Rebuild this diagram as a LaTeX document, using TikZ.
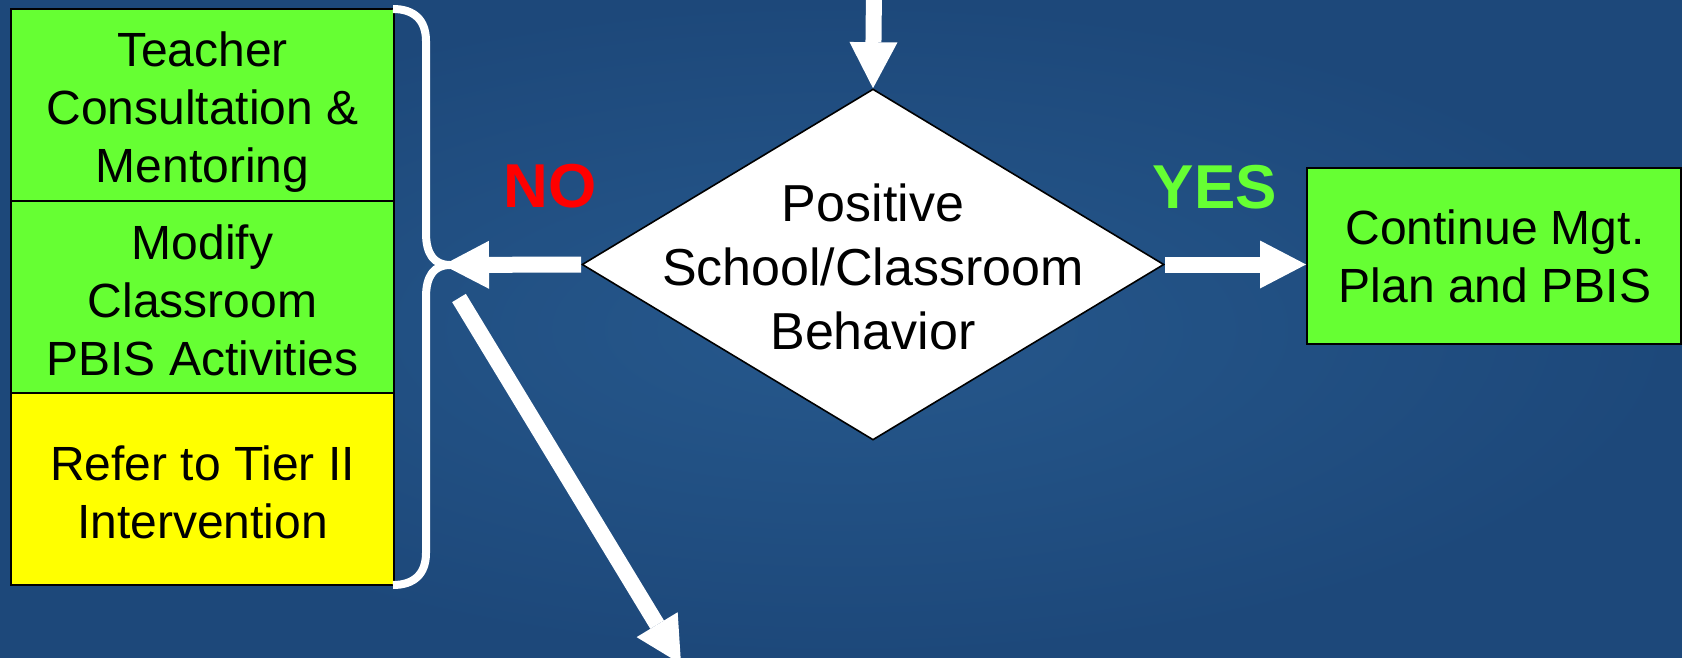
\documentclass[tikz,border=0pt]{standalone}
\usepackage{fontspec}
\setmainfont{Liberation Sans}
\usetikzlibrary{arrows.meta,shapes.geometric}
\definecolor{bgblue}{RGB}{29,72,122}
\definecolor{bglight}{RGB}{38,88,140}
\definecolor{boxgreen}{RGB}{102,255,51}
\definecolor{boxyellow}{RGB}{255,255,0}
\definecolor{nored}{RGB}{255,0,0}
\begin{document}
\begin{tikzpicture}[x=0.5pt,y=-0.5pt,
  box/.style={draw=black, line width=1pt, rectangle, inner sep=0pt},
  boxtext/.style={align=center, inner sep=0pt, font=\fontsize{24}{29}\selectfont, text=black},
  flow/.style={draw=white, line width=8pt,
    -{Triangle[length=23pt,width=24pt,line width=0pt]}},
  bracestyle/.style={draw=white, line width=4pt, line join=round},
  answer/.style={font=\bfseries\fontsize{31}{36}\selectfont, inner sep=0pt}]
\useasboundingbox (0,0) rectangle (1682,658);
\clip (0,0) rectangle (1682,658);
\shade[inner color=bglight, outer color=bgblue] (0,0) rectangle (1682,658);

% left stack
\node[box, fill=boxgreen, minimum width=191.5pt, minimum height=96pt] (b1) at (202.5,105) {};
\node[box, fill=boxgreen, minimum width=191.5pt, minimum height=96pt] (b2) at (202.5,297) {};
\node[box, fill=boxyellow, minimum width=191.5pt, minimum height=96pt] (b3) at (202.5,489) {};
\node[boxtext] (t1) at (202.5,112) {Teacher\\Consultation \&\\Mentoring};
\node[boxtext] (t2) at (202.5,300) {Modify\\Classroom\\PBIS Activities};
\node[boxtext] (t3) at (202.5,492.5) {Refer to Tier II\\Intervention};

% brace
\draw[bracestyle] (393,9) .. controls (414,9) and (426,20) .. (426,41) -- (426,233)
  .. controls (426,254) and (434,265) .. (450,265)
  .. controls (434,265) and (426,276) .. (426,297) -- (426,553)
  .. controls (426,574) and (414,585) .. (393,585);

% decision
\node[diamond, draw=black, fill=white, line width=0.8pt, minimum width=291pt,
  minimum height=175.5pt, inner sep=0pt] (d) at (873,264.5) {};
\node[align=center, font=\fontsize{26}{32}\selectfont, inner sep=0pt] (dt) at (873,267)
  {Positive\\School/Classroom\\Behavior};

% result box
\node[box, fill=boxgreen, minimum width=187pt, minimum height=88pt] (cont) at (1494,256) {};
\node[boxtext] (ct) at (1495,256.5) {Continue Mgt.\\Plan and PBIS};

% labels
\node[answer, text=nored] (no) at (550,186) {NO};
\node[answer, text=boxgreen] (yes) at (1215,187) {YES};

% connectors
\coordinate (topstart) at (874,-10);
\coordinate (notip) at (443,265);
\coordinate (dstart) at (459,298);
\coordinate (dtip) at (681,664);
\draw[flow] (topstart) -- (d.north);
\draw[flow] (d.west) -- (notip);
\draw[flow] (d.east) -- (d.east -| cont.west);
\draw[flow] (dstart) -- (dtip);
\end{tikzpicture}
\end{document}
